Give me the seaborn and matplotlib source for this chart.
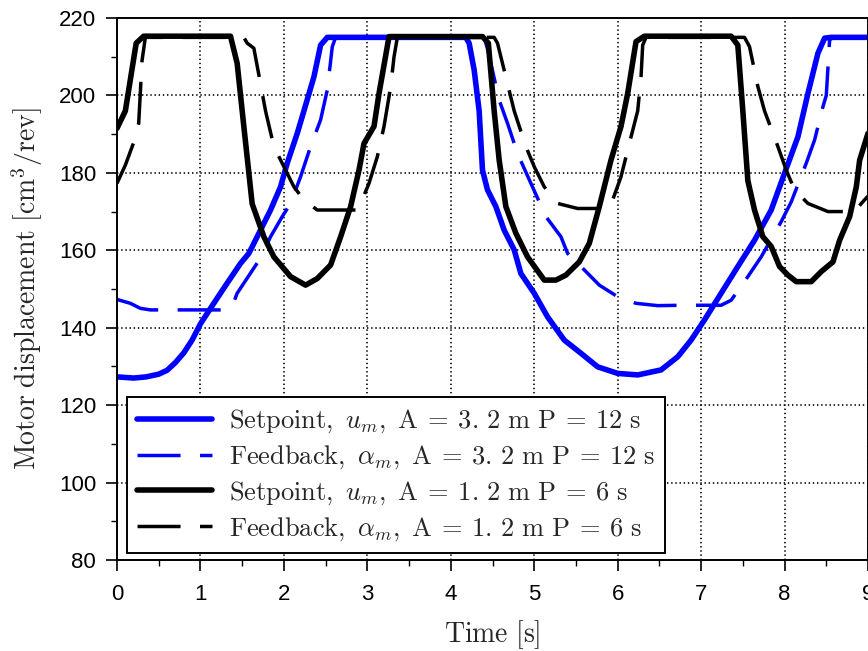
import numpy as np
import pandas as pd
import matplotlib
matplotlib.use("Agg")
import matplotlib.pyplot as plt
from matplotlib.ticker import MultipleLocator
import seaborn as sns

# ---------------- data ----------------
t_sp_big = [0.0, 0.2, 0.35, 0.5, 0.6, 0.7, 0.8, 0.9, 1.0, 1.16, 1.32, 1.48, 1.58, 1.68,
            1.84, 1.96, 2.04, 2.16, 2.24, 2.36, 2.44, 2.52, 3.0, 4.0, 4.18, 4.22, 4.28,
            4.34, 4.38, 4.44, 4.54, 4.64, 4.76, 4.84, 5.0, 5.16, 5.36, 5.56, 5.76, 6.0,
            6.24, 6.52, 6.72, 6.88, 7.04, 7.24, 7.44, 7.64, 7.84, 8.0, 8.16, 8.28, 8.4,
            8.48, 8.56, 9.0]
y_sp_big = [127.3, 127.0, 127.3, 128.0, 129.0, 131.0, 133.5, 136.8, 141.0, 146.3, 151.5,
            156.6, 159.2, 163.5, 170.4, 176.4, 182.5, 190.2, 196.0, 204.8, 213.0, 215.0,
            215.0, 215.0, 215.0, 213.5, 206.6, 196.0, 180.7, 175.6, 171.3, 165.2, 160.1,
            154.0, 148.9, 142.8, 136.8, 133.4, 129.9, 128.2, 127.8, 129.1, 132.5, 136.8,
            142.0, 148.9, 155.8, 162.6, 170.4, 179.9, 189.3, 200.5, 210.9, 214.8, 215.0,
            215.0]

t_fb_big = [0.0, 0.16, 0.28, 0.4, 1.3, 1.38, 1.44, 1.72, 1.84, 1.98, 2.08, 2.2, 2.32,
            2.44, 2.52, 2.58, 2.62, 3.5, 4.4, 4.44, 4.48, 4.58, 4.68, 4.8, 4.96, 5.14,
            5.32, 5.4, 5.56, 5.78, 6.0, 6.22, 6.48, 6.76, 7.24, 7.36, 7.56, 7.72, 7.96,
            8.08, 8.26, 8.36, 8.46, 8.5, 8.54, 8.58, 9.0]
y_fb_big = [147.3, 146.3, 145.0, 144.6, 144.6, 145.5, 148.9, 158.0, 163.5, 168.7, 172.1,
            179.0, 186.8, 193.7, 201.4, 212.6, 215.0, 215.0, 215.0, 212.0, 208.3, 198.8,
            192.8, 185.0, 177.3, 168.7, 163.5, 159.2, 155.8, 151.0, 148.0, 146.3, 145.7,
            145.8, 145.8, 147.1, 153.2, 158.3, 167.4, 172.5, 182.5, 188.5, 197.1, 200.0,
            214.3, 215.0, 215.0]

t_sp_small = [0.0, 0.1, 0.23, 0.32, 1.36, 1.44, 1.52, 1.62, 1.76, 1.88, 2.08, 2.26, 2.4,
              2.56, 2.68, 2.8, 2.9, 2.96, 3.08, 3.14, 3.26, 4.38, 4.45, 4.52, 4.58, 4.66,
              4.78, 4.92, 5.12, 5.26, 5.38, 5.54, 5.66, 5.78, 5.92, 6.04, 6.12, 6.22, 6.32,
              7.36, 7.44, 7.5, 7.56, 7.64, 7.74, 7.84, 7.94, 8.04, 8.14, 8.32, 8.44, 8.58,
              8.66, 8.78, 8.86, 8.9, 9.0]
y_sp_small = [191.5, 196.0, 213.5, 215.3, 215.3, 208.3, 192.0, 172.0, 163.5, 158.3, 153.2,
              151.0, 152.7, 156.2, 163.5, 171.3, 180.7, 187.6, 192.0, 200.5, 215.2, 215.2,
              213.5, 196.0, 183.3, 171.3, 164.4, 158.3, 152.3, 152.3, 153.6, 157.0, 161.8,
              171.3, 183.3, 192.0, 200.5, 213.9, 215.3, 215.3, 213.0, 196.0, 178.0, 170.4,
              163.5, 161.0, 155.8, 153.6, 151.9, 151.9, 154.5, 157.0, 162.6, 168.7, 176.4,
              183.3, 190.2]

t_fb_small = [0.0, 0.1, 0.196, 0.26, 0.3, 0.34, 1.52, 1.56, 1.64, 1.72, 1.78, 1.88, 2.0,
              2.12, 2.24, 2.4, 2.88, 2.92, 3.02, 3.12, 3.2, 3.28, 3.32, 3.36, 4.52, 4.56,
              4.68, 4.76, 4.9, 5.0, 5.12, 5.28, 5.52, 5.9, 5.94, 6.04, 6.14, 6.24, 6.28,
              6.3, 6.34, 7.52, 7.58, 7.68, 7.76, 7.92, 8.02, 8.12, 8.28, 8.52, 8.84, 8.92,
              9.0]
y_fb_small = [177.3, 182.0, 187.6, 192.8, 209.0, 215.0, 215.0, 213.5, 212.2, 203.0, 196.0,
              186.8, 181.6, 176.4, 173.0, 170.4, 170.4, 172.1, 177.3, 184.2, 192.0, 202.3,
              210.0, 215.0, 215.0, 213.5, 203.0, 196.0, 186.8, 181.6, 176.4, 172.1, 170.8,
              170.8, 173.0, 179.0, 187.6, 196.0, 204.8, 213.0, 215.0, 215.0, 212.6, 202.3,
              196.0, 186.8, 180.7, 175.6, 172.1, 170.0, 170.0, 172.1, 174.0]

labels = [
    r'$\mathrm{Setpoint,}\ u_m,\ \mathrm{A}\:=\:3.\,2\ \mathrm{m\ P}\:=\:12\ \mathrm{s}$',
    r'$\mathrm{Feedback,}\ \alpha_m,\ \mathrm{A}\:=\:3.\,2\ \mathrm{m\ P}\:=\:12\ \mathrm{s}$',
    r'$\mathrm{Setpoint,}\ u_m,\ \mathrm{A}\:=\:1.\,2\ \mathrm{m\ P}\:=\:6\ \mathrm{s}$',
    r'$\mathrm{Feedback,}\ \alpha_m,\ \mathrm{A}\:=\:1.\,2\ \mathrm{m\ P}\:=\:6\ \mathrm{s}$',
]
x_ticks = list(range(0, 10))
y_ticks = list(range(80, 221, 20))

# ---------------- style ----------------
sns.set_theme(style="ticks")
plt.rcParams['font.family'] = ['Liberation Sans', 'DejaVu Sans']
plt.rcParams['mathtext.fontset'] = 'cm'
plt.rcParams['lines.scale_dashes'] = False

fig = plt.figure(figsize=(8.68, 6.51), dpi=100)
ax = fig.add_axes([117 / 868, 1 - 560 / 651, 751 / 868, 542 / 651])

series = [
    (t_sp_big, y_sp_big, 'blue', 4.0, None),
    (t_fb_big, y_fb_big, 'blue', 2.5, (31, 14)),
    (t_sp_small, y_sp_small, 'black', 4.0, None),
    (t_fb_small, y_fb_small, 'black', 2.5, (31, 14)),
]
for (t, y, c, lw, dash), lab in zip(series, labels):
    df = pd.DataFrame({'t': t, 'y': y})
    sns.lineplot(data=df, x='t', y='y', color=c, linewidth=lw, label=lab, ax=ax,
                 sort=False, estimator=None)
    if dash is not None:
        ax.lines[-1].set_dashes(dash)

ax.set_xlim(0, 9)
ax.set_ylim(80, 220)
ax.set_xticks(x_ticks)
ax.set_yticks(y_ticks)
ax.xaxis.set_minor_locator(MultipleLocator(0.5))
ax.yaxis.set_minor_locator(MultipleLocator(10))
ax.tick_params(which='major', direction='out', length=8, width=1.2, labelsize=16,
               colors='black')
ax.tick_params(axis='y', which='major', pad=7)
ax.tick_params(axis='x', which='major', pad=9)
ax.tick_params(which='minor', direction='out', length=4.5, width=1.0, colors='black')
ax.grid(True, which='major', color='black', linestyle=(0, (1, 2)), linewidth=1.2)
for s in ax.spines.values():
    s.set_visible(True)
    s.set_color('black')
    s.set_linewidth(1.4)

ax.set_xlabel(r'$\mathrm{Time\ [s]}$', fontsize=20, labelpad=10)
ax.set_ylabel(r'$\mathrm{Motor\ displacement\ [cm^3/rev]}$', fontsize=20, labelpad=10)

leg = ax.legend(loc='lower left', bbox_to_anchor=(10 / 751, 7 / 542), fontsize=19,
                frameon=True, fancybox=False, framealpha=1, edgecolor='black',
                handlelength=2.85, handletextpad=0.65, labelspacing=0.32,
                borderpad=0.38, borderaxespad=0)
leg.get_frame().set_linewidth(1.4)

fig.savefig('out.png', dpi=100)
